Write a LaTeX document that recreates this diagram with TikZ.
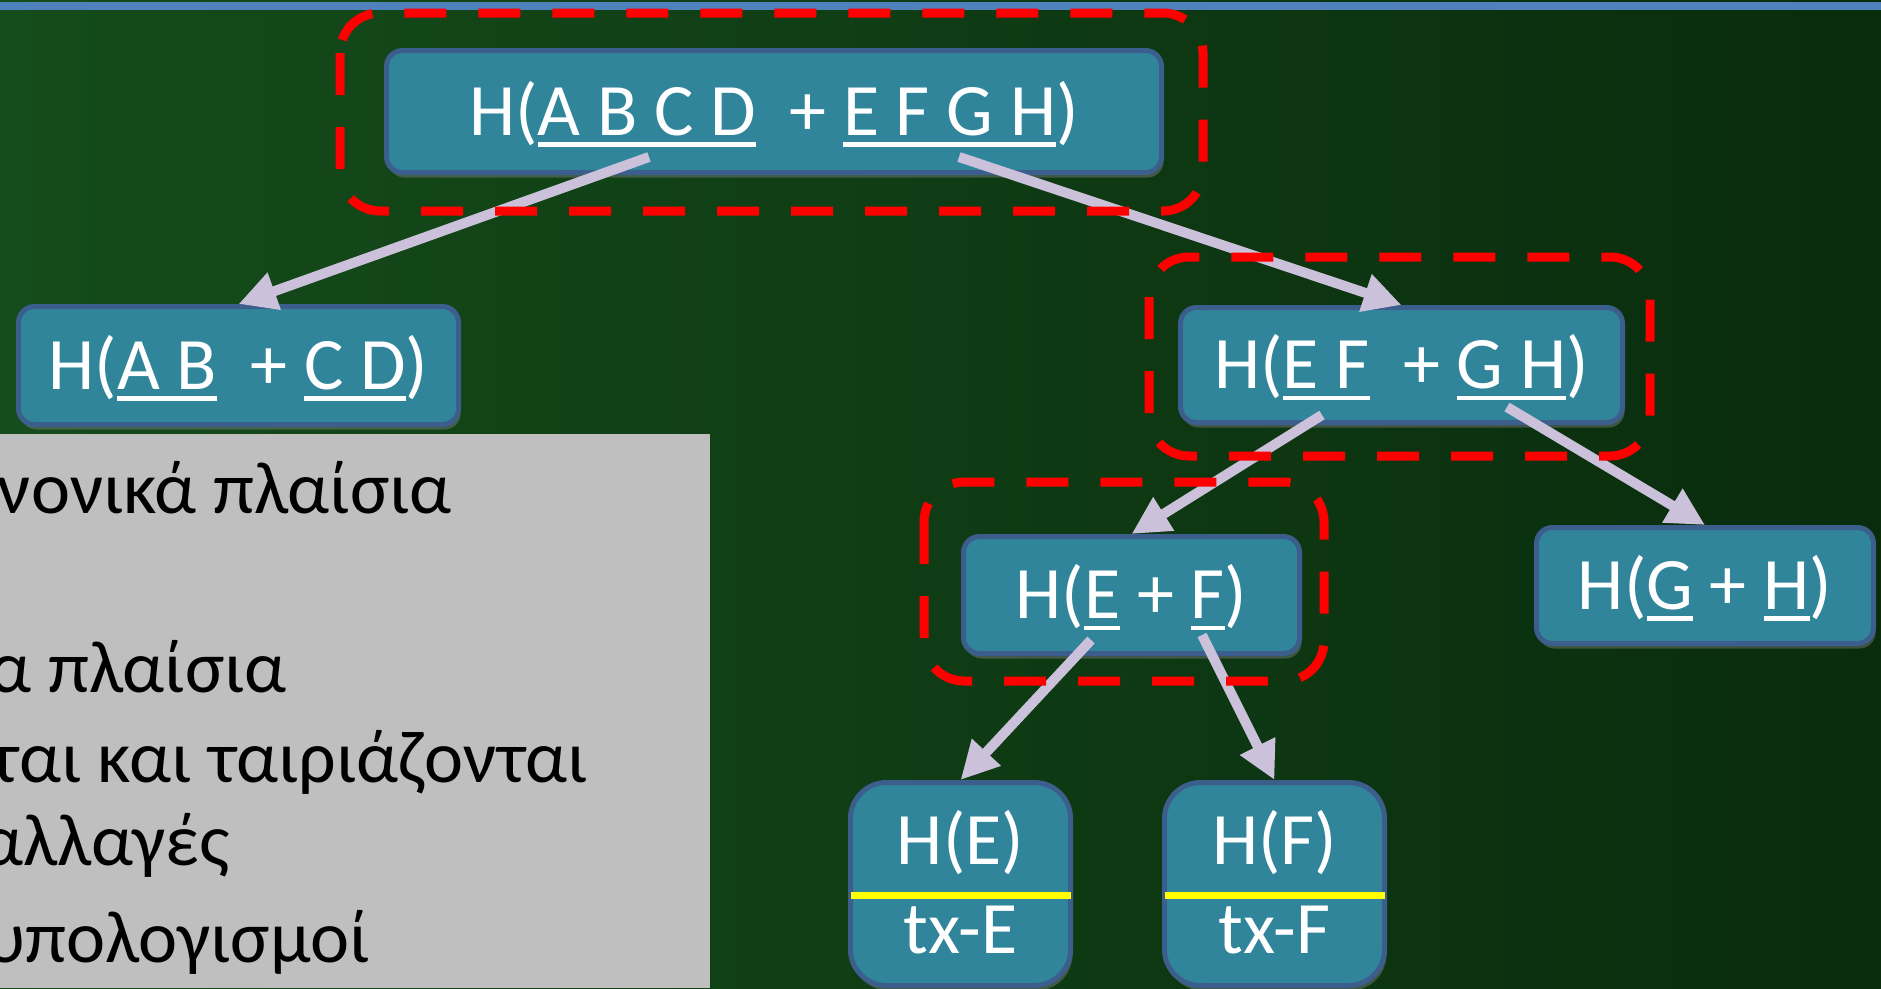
\documentclass[tikz,border=0pt]{standalone}
\usepackage{fontspec}
\setmainfont{Carlito}
\usetikzlibrary{calc,arrows.meta,shadows}
\definecolor{bgL}{RGB}{21,76,27}
\definecolor{bgM}{RGB}{12,56,17}
\definecolor{bgR}{RGB}{9,44,13}
\definecolor{barblue}{RGB}{79,129,189}
\definecolor{nodefill}{RGB}{49,133,155}
\definecolor{nodeborder}{RGB}{59,94,140}
\definecolor{arrowcol}{RGB}{204,193,218}
\definecolor{grayfill}{RGB}{191,191,191}
\definecolor{hiyellow}{RGB}{255,255,0}
\definecolor{dashred}{RGB}{255,0,0}
\newcommand\ulin[1]{\setbox0=\hbox{#1}\rlap{\rule[-0.16em]{\wd0}{0.065em}}\box0\relax}
\begin{document}
\begin{tikzpicture}[x=1pt,y=-1pt,
  hbox/.style={draw=nodeborder, line width=5pt, fill=nodefill, rounded corners=16pt,
    text=white, font=\fontsize{74}{80}\selectfont, text height=47pt, text depth=0pt,
    inner sep=0pt, drop shadow={opacity=0.45, shadow xshift=2pt, shadow yshift=-5pt}},
  leafbox/.style={hbox, rounded corners=36pt, minimum width=220pt, minimum height=203pt},
  leaftxt/.style={text=white, font=\fontsize{74}{80}\selectfont, inner sep=0pt, anchor=base},
  txtxt/.style={text=white, font=\fontsize{74}{80}\selectfont, inner sep=0pt, anchor=base},
  arr/.style={draw=arrowcol, line width=10pt, -{Triangle[length=38pt,width=37pt]}},
  redbox/.style={draw=dashred, line width=9pt, dash pattern=on 42pt off 32pt, rounded corners=40pt},
  yellowbar/.style={draw=hiyellow, line width=7pt},
  graytxt/.style={text=black, font=\fontsize{74}{80}\selectfont, inner sep=0pt, anchor=base east}
]
\useasboundingbox (0,0) rectangle (1881,988);
\clip (0,0) rectangle (1881,988);
% background
\shade[left color=bgL, middle color=bgM, right color=bgR] (0,0) rectangle (1881,988);
\fill[barblue] (0,2) rectangle (1881,9.5);
% gray panel
\fill[grayfill] (0,434) rectangle (710,988);
\node[graytxt] (g1) at (452,513) {νονικά πλαίσια};
\node[graytxt] (g2) at (287,692) {α πλαίσια};
\node[graytxt] (g3) at (588,782) {ται και ταιριάζονται};
\node[graytxt] (g4) at (230,865) {αλλαγές};
\node[graytxt] (g5) at (370,962) {υπολογισμοί};
% nodes
\node[hbox, minimum width=775pt, minimum height=122pt] (top) at (774,111.5)
  {H(\ulin{A B C D}\ \ + \ulin{E F G H})};
\node[hbox, minimum width=440pt, minimum height=118pt] (ab) at (238.5,365.5)
  {H(\ulin{A B}\ \ + \ulin{C D})};
\node[hbox, minimum width=442pt, minimum height=115pt] (efgh) at (1401.5,365)
  {H(\ulin{E F}\ \ + \ulin{G H})};
\node[hbox, minimum width=336pt, minimum height=117pt] (ef) at (1131.5,595)
  {H(\ulin{E} + \ulin{F})};
\node[hbox, minimum width=337pt, minimum height=116pt] (gh) at (1705,585.5)
  {H(\ulin{G} + \ulin{H})};
\node[leafbox] (he) at (960.5,884) {};
\node[leafbox] (hf) at (1274.5,884) {};
\draw[yellowbar] ($(he.west)+(2.5,11)$) -- ($(he.east)+(-2.5,11)$);
\draw[yellowbar] ($(hf.west)+(2.5,11)$) -- ($(hf.east)+(-2.5,11)$);
\node[leaftxt] (het) at ($(he.center)+(0,-20)$) {H(E)};
\node[txtxt] (hex) at ($(he.center)+(0,69)$) {tx-E};
\node[leaftxt] (hft) at ($(hf.center)+(0,-20)$) {H(F)};
\node[txtxt] (hfx) at ($(hf.center)+(0,69)$) {tx-F};
% arrows
\draw[arr] ($(top.center)+(-125,45.5)$) -- (ab.north);
\draw[arr] ($(top.center)+(185,45.5)$) -- (efgh.north);
\draw[arr] ($(efgh.center)+(-79.5,50)$) -- (ef.north);
\draw[arr] ($(efgh.center)+(105.5,42)$) -- (gh.north);
\draw[arr] ($(ef.center)+(-40.5,45)$) -- (he.north);
\draw[arr] ($(ef.center)+(70.5,40)$) -- (hf.north);
% red dashed frames
\draw[redbox] (340,13) rectangle (1203,211);
\draw[redbox] (1149,257) rectangle (1650,456);
\draw[redbox] (924,482) rectangle (1324,681);
\end{tikzpicture}
\end{document}
